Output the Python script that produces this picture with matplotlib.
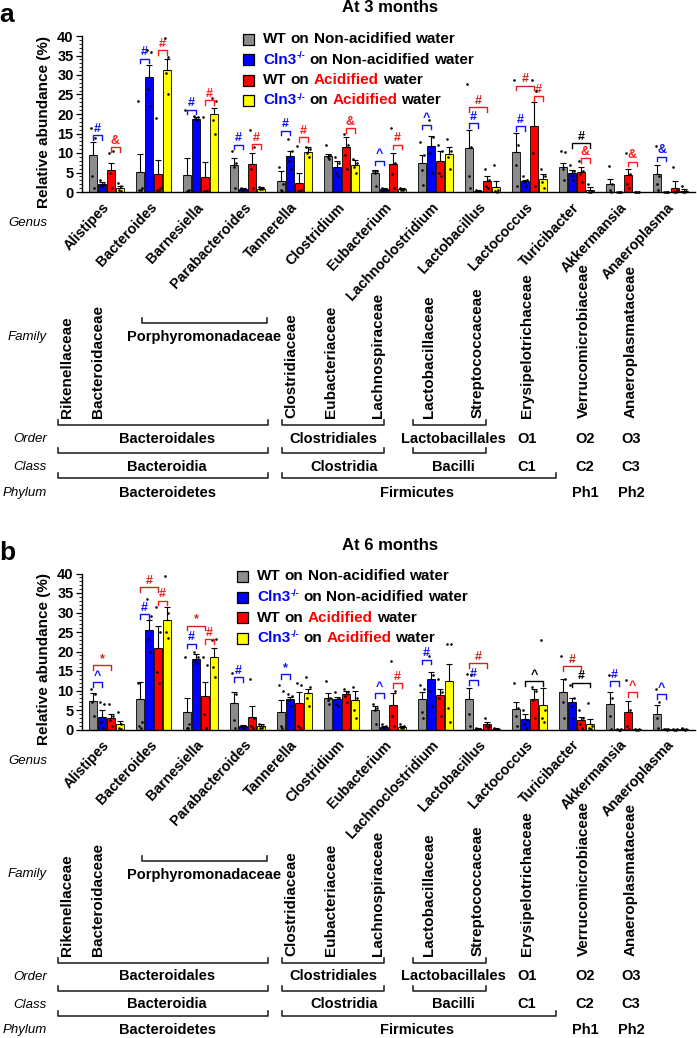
import numpy as np
import matplotlib.pyplot as plt
from matplotlib.lines import Line2D
from matplotlib.ticker import MultipleLocator
from matplotlib.transforms import blended_transform_factory

plt.rcParams['font.family'] = ['Liberation Sans', 'DejaVu Sans']

W, H, DPI = 697, 1038, 100

genera = ['Alistipes', 'Bacteroides', 'Barnesiella', 'Parabacteroides', 'Tannerella',
          'Clostridium', 'Eubacterium', 'Lachnoclostridium', 'Lactobacillus',
          'Lactococcus', 'Turicibacter', 'Akkermansia', 'Anaeroplasma']
bar_colors = ['#8c8c8c', '#0000ff', '#ff0000', '#ffff00']

# ---- 3 months: means / SEM (upper) ----
m3_wt_non = [9.5, 5.1, 4.3, 7.0, 2.7, 9.2, 5.0, 7.5, 11.3, 10.3, 6.3, 2.1, 4.5]
m3_cln_non = [2.0, 29.4, 18.8, 0.86, 9.3, 6.5, 0.8, 11.8, 0.3, 2.8, 4.8, 0.05, 0.05]
m3_wt_acid = [5.7, 4.5, 3.9, 7.1, 2.2, 11.5, 7.3, 8.0, 2.9, 17.0, 5.1, 4.3, 1.1]
m3_cln_acid = [0.9, 31.2, 20.0, 0.86, 10.2, 6.8, 0.8, 9.8, 1.4, 3.3, 0.5, 0.05, 0.35]
e3_wt_non = [3.2, 4.7, 4.3, 1.7, 2.7, 0.6, 0.7, 1.9, 4.7, 4.8, 1.1, 1.3, 2.5]
e3_cln_non = [0.5, 3.2, 0.4, 0.2, 1.2, 1.5, 0.2, 2.6, 0.1, 0.4, 0.9, 0.0, 0.0]
e3_wt_acid = [1.85, 3.7, 3.9, 3.0, 2.6, 2.7, 2.7, 2.4, 1.2, 6.0, 1.3, 1.5, 1.6]
e3_cln_acid = [0.6, 3.0, 1.5, 0.3, 1.3, 1.3, 0.2, 1.7, 1.3, 1.3, 0.9, 0.0, 0.4]

d3_wt_non = [[16.4, 13.8, 4.0, 1.0], [23.3, 1.0, 0.5, 0.5], [21.0, 0.5, 0.3, 0.3],
             [10.5, 7.5, 6.5, 1.0], [6.5, 2.0, 0.5, 0.3], [12.0, 9.5, 9.0, 8.5],
             [5.5, 5.3, 4.8, 1.5], [12.8, 9.4, 5.7, 1.8], [27.8, 11.5, 4.0, 1.0],
             [28.6, 12.0, 7.0, 1.5], [10.5, 10.3, 6.0, 3.0], [6.7, 2.0, 0.5, 0.1],
             [11.8, 4.0, 2.0, 0.5]]
d3_cln_non = [[3.0, 2.0, 1.5, 1.5], [36.5, 35.8, 26.5, 22.0], [19.5, 19.2, 18.8, 18.5],
              [1.0, 0.8, 0.6, 0.8], [13.5, 10.5, 8.0, 6.0], [9.0, 7.5, 5.0, 4.0],
              [0.9, 0.7, 0.6, 0.5], [18.5, 14.0, 10.0, 5.0], [0.5, 0.3, 0.2, 0.2],
              [4.0, 3.0, 2.5, 1.5], [7.0, 5.5, 4.0, 3.0], [0.1, 0.05, 0.0, 0.0],
              [0.1, 0.05, 0.0, 0.0]]
d3_wt_acid = [[10.0, 10.4, 5.0, 1.0], [19.0, 1.0, 0.5, 0.5], [19.2, 0.3, 0.3, 0.2],
              [16.0, 11.5, 6.0, 1.0], [11.9, 0.5, 0.3, 0.3], [15.0, 12.0, 9.5, 6.0],
              [16.4, 7.5, 4.5, 1.0], [12.0, 10.5, 5.0, 4.0], [5.8, 3.0, 1.5, 1.0],
              [28.6, 25.8, 10.0, 1.5], [8.0, 5.5, 4.5, 2.5], [10.0, 4.5, 2.0, 1.0],
              [6.5, 0.5, 0.1, 0.0]]
d3_cln_acid = [[2.3, 1.5, 0.5, 0.3], [39.5, 34.5, 30.5, 25.0], [24.0, 23.3, 18.5, 15.0],
               [1.2, 0.9, 0.7, 0.8], [11.5, 11.0, 10.0, 9.0], [8.5, 7.5, 6.5, 5.0],
               [0.9, 0.8, 0.6, 0.6], [13.5, 10.5, 9.0, 6.0], [6.8, 0.5, 0.3, 0.1],
               [6.0, 4.0, 2.5, 1.0], [2.0, 0.3, 0.1, 0.1], [0.1, 0.05, 0.0, 0.0],
               [1.5, 0.3, 0.1, 0.0]]

# ---- 6 months ----
m6_wt_non = [7.3, 7.7, 4.5, 6.9, 4.5, 8.1, 5.1, 7.9, 7.9, 5.2, 9.7, 6.6, 3.9]
m6_cln_non = [3.3, 25.6, 18.2, 0.9, 7.7, 7.7, 0.7, 12.9, 0.2, 2.8, 7.0, 0.1, 0.1]
m6_wt_acid = [3.0, 20.8, 8.6, 3.3, 6.7, 9.2, 6.4, 8.8, 1.3, 7.9, 2.4, 4.5, 0.1]
m6_cln_acid = [1.3, 28.1, 18.7, 1.0, 9.4, 7.5, 0.7, 12.4, 0.25, 6.2, 1.5, 0.1, 0.15]
e6_wt_non = [2.1, 4.6, 3.7, 2.8, 3.0, 1.3, 0.9, 1.8, 2.8, 1.8, 3.3, 3.1, 2.5]
e6_cln_non = [1.6, 2.6, 1.1, 0.2, 0.7, 0.6, 0.2, 1.9, 0.1, 1.3, 1.2, 0.0, 0.05]
e6_wt_acid = [1.1, 5.7, 3.7, 2.7, 2.9, 0.7, 3.0, 1.7, 0.6, 2.4, 0.9, 2.8, 0.05]
e6_cln_acid = [1.0, 3.3, 2.3, 0.5, 1.1, 2.4, 0.2, 4.3, 0.1, 4.4, 1.3, 0.0, 0.1]

d6_wt_non = [[10.5, 9.0, 7.0, 3.5], [12.0, 2.0, 1.0, 0.5], [18.5, 1.5, 0.5, 0.3],
             [14.5, 9.0, 2.5, 0.5], [11.5, 10.0, 1.0, 0.5], [12.5, 8.0, 7.5, 6.5],
             [6.5, 5.5, 5.0, 1.5], [11.5, 10.5, 4.5, 3.0], [14.3, 14.0, 4.0, 1.0],
             [12.0, 5.5, 3.5, 1.0], [18.9, 13.0, 7.0, 3.0], [14.0, 8.0, 3.5, 0.2],
             [10.3, 7.0, 3.0, 0.3]]
d6_cln_non = [[7.0, 6.5, 2.0, 0.3], [33.5, 29.0, 23.2, 20.0], [20.0, 18.5, 17.5, 17.0],
              [1.0, 0.8, 0.7, 0.5], [9.0, 8.5, 7.5, 6.0], [9.5, 8.0, 6.5, 6.0],
              [1.5, 0.8, 0.5, 0.2], [18.8, 14.0, 10.0, 6.0], [0.3, 0.2, 0.1, 0.1],
              [5.0, 2.5, 1.5, 0.5], [11.5, 8.0, 6.0, 3.0], [0.1, 0.1, 0.0, 0.0],
              [0.2, 0.1, 0.1, 0.0]]
d6_wt_acid = [[6.5, 3.5, 2.5, 1.0], [31.4, 25.0, 14.7, 12.0], [18.5, 16.5, 4.0, 0.5],
              [13.0, 3.0, 1.0, 0.5], [12.0, 11.5, 1.0, 0.5], [10.5, 9.5, 8.5, 7.0],
              [17.6, 10.0, 3.5, 1.0], [13.0, 9.5, 8.0, 3.5], [3.0, 1.0, 0.8, 0.5],
              [11.0, 10.0, 7.5, 3.0], [5.0, 3.0, 1.5, 0.5], [12.7, 5.0, 1.0, 0.2],
              [0.2, 0.1, 0.0, 0.0]]
d6_cln_acid = [[4.5, 1.5, 0.5, 0.2], [39.4, 30.0, 25.0, 23.5], [23.0, 23.3, 16.0, 13.5],
               [1.5, 1.0, 0.5, 0.5], [13.5, 11.0, 8.0, 6.0], [11.0, 8.0, 5.0, 3.0],
               [1.5, 1.0, 0.5, 0.3], [21.9, 21.9, 5.5, 2.0], [0.3, 0.2, 0.2, 0.2],
               [23.0, 5.0, 3.0, 2.0], [6.9, 1.0, 0.5, 0.2], [0.1, 0.1, 0.0, 0.0],
               [0.3, 0.2, 0.1, 0.0]]

# significance brackets: (genus, bar from, bar to, height, symbol, colour)
sig3 = [(0, 0, 1, 14.5, '#', 'b'), (0, 2, 3, 11.5, '&', 'r'),
        (1, 0, 1, 34.2, '#', 'b'), (1, 2, 3, 36.3, '#', 'r'),
        (2, 0, 1, 21.1, '#', 'b'), (2, 2, 3, 23.5, '#', 'r'),
        (3, 0, 1, 12.1, '#', 'b'), (3, 2, 3, 12.3, '#', 'r'),
        (4, 0, 1, 15.7, '#', 'b'), (4, 2, 3, 14.1, '#', 'r'),
        (5, 2, 3, 16.4, '&', 'r'),
        (6, 0, 1, 8.0, '^', 'b'), (6, 2, 3, 12.1, '#', 'r'),
        (7, 0, 1, 17.3, '^', 'b'),
        (8, 0, 1, 17.7, '#', 'b'), (8, 0, 2, 21.8, '#', 'dr'),
        (9, 0, 1, 16.8, '#', 'b'), (9, 0, 2, 27.3, '#', 'dr'), (9, 2, 3, 24.5, '#', 'r'),
        (10, 1, 3, 12.5, '#', 'k'), (10, 2, 3, 8.7, '&', 'r'),
        (11, 2, 3, 7.8, '&', 'r'),
        (12, 0, 1, 9.1, '&', 'b')]
sig6 = [(0, 0, 1, 12.2, '^', 'b'), (0, 0, 2, 16.5, '*', 'dr'),
        (1, 0, 1, 29.5, '#', 'b'), (1, 0, 2, 36.5, '#', 'dr'), (1, 2, 3, 33.0, '#', 'r'),
        (2, 0, 1, 22.0, '#', 'b'), (2, 0, 2, 26.6, '*', 'dr'), (2, 2, 3, 23.2, '#', 'r'),
        (3, 0, 1, 13.4, '#', 'b'),
        (4, 0, 1, 14.2, '*', 'b'),
        (6, 0, 1, 9.3, '^', 'b'), (6, 2, 3, 11.8, '#', 'r'),
        (7, 0, 1, 17.9, '#', 'b'),
        (8, 0, 1, 12.7, '#', 'b'), (8, 0, 2, 17.0, '#', 'dr'),
        (9, 1, 3, 12.4, '^', 'k'),
        (10, 0, 2, 16.3, '#', 'dr'), (10, 1, 3, 12.0, '#', 'k'),
        (11, 0, 1, 12.4, '#', 'b'), (11, 2, 3, 9.5, '^', 'r'),
        (12, 0, 1, 9.0, '^', 'b')]
sig_colors = {'b': '#1010ff', 'r': '#ff1a1a', 'dr': '#c8281e', 'k': 'black'}

# taxonomy annotation (x in pixels)
families = [('Rikenellaceae', 67), ('Bacteroidaceae', 98), ('Clostridiaceae', 291),
            ('Eubacteriaceae', 331), ('Lachnospiraceae', 378), ('Lactobacillaceae', 429),
            ('Streptococcaceae', 478), ('Erysipelotrichaceae', 527),
            ('Verrucomicrobiaceae', 584), ('Anaeroplasmataceae', 631)]
orders = [('Bacteroidales', 167), ('Clostridiales', 333), ('Lactobacillales', 453),
          ('O1', 527), ('O2', 585), ('O3', 631)]
classes = [('Bacteroidia', 167), ('Clostridia', 344), ('Bacilli', 453),
           ('C1', 527), ('C2', 585), ('C3', 631)]
phyla = [('Bacteroidetes', 167), ('Firmicutes', 417), ('Ph1', 585), ('Ph2', 631)]
order_spans = [(58, 268), (282, 384), (413, 486)]
class_spans = [(58, 268), (282, 556)]

fig = plt.figure(figsize=(W / DPI, H / DPI), dpi=DPI)
rend = fig.canvas.get_renderer()


def fx(x):
    return x / W


def fy(y):
    return 1 - y / H


def ftext(x, y, s, **kw):
    return fig.text(fx(x), fy(y), s, **kw)


def bracket_up(x1, x2, y, tick=5):
    fig.add_artist(Line2D([fx(x1), fx(x1), fx(x2), fx(x2)],
                          [fy(y - tick), fy(y), fy(y), fy(y - tick)],
                          transform=fig.transFigure, color='#2a2a2a', lw=1.2))


def rich(x, y, parts, size):
    sp = size * 0.278 * DPI / 72
    for k, (s, c, kind) in enumerate(parts):
        if kind == 's':
            t = ftext(x, y - 5, s, fontsize=size * 0.6, color=c,
                      fontweight='bold', va='baseline')
        else:
            if k > 0:
                x += sp
            t = ftext(x, y, s, fontsize=size, color=c, fontweight='bold', va='baseline')
        x += t.get_window_extent(rend).width


def panel(dy, ldx, title, letter, means, errs, dots, sigs):
    ax = fig.add_axes([fx(82), fy(192 + dy), fx(613), 156 / H])
    offs = np.array([-1.5, -0.5, 0.5, 1.5]) * 0.19
    xg = np.arange(len(genera))
    dot_dx = [-0.035, 0.035, -0.012, 0.015]
    for j in range(4):
        xs = xg + offs[j]
        ax.bar(xs, means[j], width=0.16, color=bar_colors[j], edgecolor='black',
               linewidth=0.6, zorder=2)
        ax.errorbar(xs, means[j], yerr=[np.zeros(len(genera)), errs[j]], fmt='none',
                    ecolor='black', elinewidth=0.8, capsize=2, capthick=0.8, zorder=3)
        for i in range(len(genera)):
            vals = dots[j][i]
            ax.scatter([xs[i] + dot_dx[k % 4] for k in range(len(vals))], vals, s=3.5,
                       color='black', linewidths=0, zorder=4, clip_on=False)
    for gi, a, b, h, sym, ck in sigs:
        x1, x2 = gi + offs[a], gi + offs[b]
        col = sig_colors[ck]
        ax.plot([x1, x1, x2, x2], [h - 1.2, h, h, h - 1.2], color=col, lw=1.0,
                clip_on=False, zorder=5)
        ax.text((x1 + x2) / 2, h + 0.1, sym, color=col, fontsize=9, fontweight='bold',
                ha='center', va='bottom', clip_on=False)
    ax.set_xlim(-0.52, 12.52)
    ax.set_ylim(0, 40)
    ax.set_xticks([])
    ax.yaxis.set_major_locator(MultipleLocator(5))
    ax.yaxis.set_minor_locator(MultipleLocator(1))
    ax.tick_params(axis='y', which='major', length=4, width=0.9, labelsize=10.5, pad=2)
    ax.tick_params(axis='y', which='minor', length=2, width=0.6)
    for lbl in ax.get_yticklabels():
        lbl.set_fontweight('bold')
    for s in ['top', 'right']:
        ax.spines[s].set_visible(False)
    for s in ['left', 'bottom']:
        ax.spines[s].set_linewidth(1.0)
    ax.set_ylabel('Relative abundance (%)', fontsize=11, fontweight='bold')
    ax.yaxis.set_label_coords(-0.05, 0.45)

    # titles
    ftext(390, 8 + dy, title, fontsize=12, fontweight='bold', ha='center', va='center')
    ftext(7, 15 + dy, letter, fontsize=19, fontweight='bold', ha='center', va='center')

    # legend
    rows = [[('WT', 'black', 'n'), ('on', 'black', 'n'), ('Non-acidified', 'black', 'n'),
             ('water', 'black', 'n')],
            [('Cln3', '#0000ff', 'n'), ('-/-', '#0000ff', 's'), ('on', 'black', 'n'),
             ('Non-acidified', 'black', 'n'), ('water', 'black', 'n')],
            [('WT', 'black', 'n'), ('on', 'black', 'n'), ('Acidified', '#ff0000', 'n'),
             ('water', 'black', 'n')],
            [('Cln3', '#0000ff', 'n'), ('-/-', '#0000ff', 's'), ('on', 'black', 'n'),
             ('Acidified', '#ff0000', 'n'), ('water', 'black', 'n')]]
    for r, parts in enumerate(rows):
        yc = 39 + 20.5 * r + dy
        fig.add_artist(plt.Rectangle((fx(243 + ldx), fy(yc + 5.5)), 11 / W, 11 / H,
                                     transform=fig.transFigure, facecolor=bar_colors[r],
                                     edgecolor='black', lw=0.9))
        rich(263 + ldx, yc + 4, parts, 11)

    # genus labels
    tr = blended_transform_factory(ax.transData, fig.transFigure)
    for i, g in enumerate(genera):
        ax.text(i + 0.02, fy(205 + dy), g, transform=tr, rotation=47,
                rotation_mode='anchor', ha='right', va='center', fontsize=10.3,
                fontweight='bold')

    # row labels
    for lab, y in [('Genus', 223), ('Family', 337), ('Order', 439), ('Class', 467),
                   ('Phylum', 493)]:
        ftext(47, y + dy, lab, fontsize=9.5, style='italic', ha='right', va='center')

    for name, x in families:
        ftext(x, 418 + dy, name, rotation=90, fontsize=11, fontweight='bold',
              ha='center', va='bottom')
    ftext(204, 337 + dy, 'Porphyromonadaceae', fontsize=10.5, fontweight='bold',
          ha='center', va='center')
    bracket_up(142, 267, 323 + dy)
    for x1, x2 in order_spans:
        bracket_up(x1, x2, 425 + dy)
        bracket_up(x1, x2, 453 + dy)
    for x1, x2 in class_spans:
        bracket_up(x1, x2, 478 + dy)
    for row, y in [(orders, 439), (classes, 467), (phyla, 493)]:
        for name, x in row:
            ftext(x, y + dy, name, fontsize=10.5, fontweight='bold', ha='center',
                  va='center')


panel(0, 0, 'At 3 months', 'a',
      [m3_wt_non, m3_cln_non, m3_wt_acid, m3_cln_acid],
      [e3_wt_non, e3_cln_non, e3_wt_acid, e3_cln_acid],
      [d3_wt_non, d3_cln_non, d3_wt_acid, d3_cln_acid], sig3)
panel(537.5, -6, 'At 6 months', 'b',
      [m6_wt_non, m6_cln_non, m6_wt_acid, m6_cln_acid],
      [e6_wt_non, e6_cln_non, e6_wt_acid, e6_cln_acid],
      [d6_wt_non, d6_cln_non, d6_wt_acid, d6_cln_acid], sig6)

fig.savefig('out.png', dpi=DPI)
